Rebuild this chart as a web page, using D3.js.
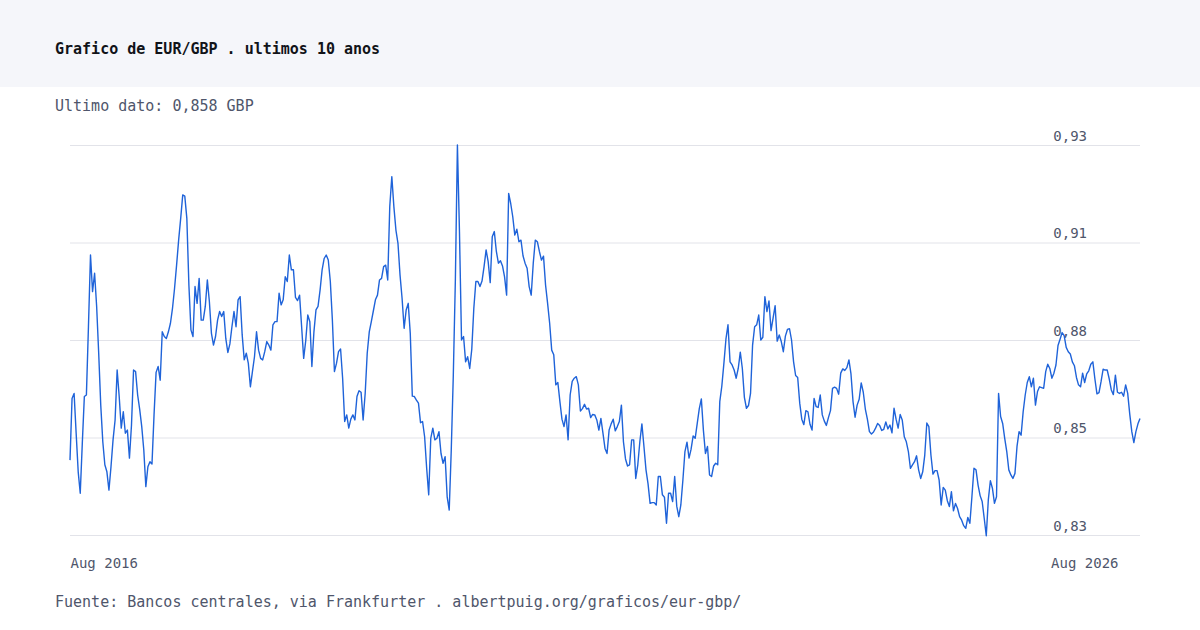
<!DOCTYPE html>
<html>
<head>
<meta charset="utf-8">
<script src="https://cdn.jsdelivr.net/npm/d3@7"></script>
<style>
  body { margin: 0; background: #fff; }
  svg { display: block; font-family: "DejaVu Sans Mono", monospace; }
</style>
</head>
<body>
<div id="chart"></div>
<script>
const title = "Grafico de EUR/GBP . ultimos 10 anos";
const source = "Fuente: Bancos centrales, via Frankfurter . albertpuig.org/graficos/eur-gbp/";
const latest = 0.858;

// weekly readings, starting here
const startDate = "2016-08-05";
const stepDays = 7;

const rates = [
  // 2016-2018
  0.8492, 0.8650, 0.8663, 0.8561, 0.8462, 0.8407, 0.8535, 0.8655, 0.8659, 0.8834,
  0.9018, 0.8924, 0.8971, 0.8886, 0.8766, 0.8633, 0.8539, 0.8480, 0.8462, 0.8415,
  0.8475, 0.8544, 0.8595, 0.8723, 0.8655, 0.8574, 0.8616, 0.8561, 0.8569, 0.8497,
  0.8582, 0.8723, 0.8719, 0.8659, 0.8622, 0.8578, 0.8518, 0.8424, 0.8475, 0.8488,
  0.8482, 0.8608, 0.8717, 0.8732, 0.8697, 0.8821, 0.8809, 0.8804, 0.8821, 0.8843,
  0.8881, 0.8932, 0.8992, 0.9056, 0.9112, 0.9172, 0.9169, 0.9112, 0.8941, 0.8826,
  0.8809, 0.8937, 0.8894, 0.8958, 0.8851, 0.8851, 0.8886, 0.8954, 0.8898, 0.8817,
  0.8787, 0.8809, 0.8851, 0.8873, 0.8860, 0.8873, 0.8804, 0.8768, 0.8790, 0.8834,
  0.8873, 0.8834, 0.8903, 0.8911, 0.8813, 0.8749, 0.8766, 0.8740,
  // 2018-2019
  0.8680, 0.8719, 0.8757, 0.8821, 0.8774, 0.8753, 0.8749, 0.8770, 0.8796, 0.8787,
  0.8774, 0.8839, 0.8847, 0.8847, 0.8920, 0.8890, 0.8903, 0.8962, 0.8950, 0.9018,
  0.8980, 0.8980, 0.8909, 0.8901, 0.8915, 0.8834, 0.8753, 0.8798, 0.8864, 0.8847,
  0.8732, 0.8821, 0.8877, 0.8886, 0.8928, 0.8980, 0.9009, 0.9018, 0.9005, 0.8950,
  0.8851, 0.8719, 0.8740, 0.8770, 0.8777, 0.8702, 0.8591, 0.8608, 0.8574, 0.8597,
  0.8608, 0.8595, 0.8655, 0.8670, 0.8666, 0.8595, 0.8663, 0.8766, 0.8821, 0.8847,
  0.8875, 0.8903, 0.8915, 0.8954, 0.8958, 0.8988, 0.8992, 0.8954, 0.9142, 0.9219,
  0.9142, 0.9082, 0.9048, 0.8967, 0.8907, 0.8830, 0.8877, 0.8894, 0.8817, 0.8656,
  0.8655, 0.8646, 0.8638, 0.8588, 0.8591, 0.8552, 0.8471, 0.8403,
  // 2020-2021
  0.8548, 0.8574, 0.8544, 0.8548, 0.8565, 0.8509, 0.8484, 0.8501, 0.8398, 0.8364,
  0.8518, 0.8710, 0.8954, 0.9300, 0.9078, 0.8800, 0.8809, 0.8744, 0.8757, 0.8727,
  0.8776, 0.8881, 0.8950, 0.8950, 0.8937, 0.8951, 0.8988, 0.9031, 0.9001, 0.8947,
  0.9065, 0.9078, 0.9027, 0.8997, 0.9003, 0.8990, 0.8962, 0.8915, 0.9176, 0.9150,
  0.9116, 0.9069, 0.9084, 0.9052, 0.9056, 0.9016, 0.8997, 0.8984, 0.8937, 0.8915,
  0.8997, 0.9056, 0.9052, 0.9027, 0.9005, 0.9015, 0.8941, 0.8894, 0.8843, 0.8774,
  0.8762, 0.8685, 0.8691, 0.8642, 0.8597, 0.8578, 0.8608, 0.8544, 0.8659, 0.8694,
  0.8702, 0.8706, 0.8685, 0.8618, 0.8624, 0.8635, 0.8623, 0.8625, 0.8601, 0.8609,
  0.8608, 0.8595, 0.8569, 0.8599, 0.8561, 0.8522, 0.8509, 0.8569,
  // 2022-2023
  0.8585, 0.8597, 0.8567, 0.8578, 0.8591, 0.8633, 0.8539, 0.8495, 0.8477, 0.8480,
  0.8544, 0.8544, 0.8445, 0.8480, 0.8539, 0.8585, 0.8527, 0.8467, 0.8431, 0.8381,
  0.8383, 0.8383, 0.8377, 0.8450, 0.8450, 0.8403, 0.8397, 0.8330, 0.8407, 0.8407,
  0.8386, 0.8450, 0.8374, 0.8347, 0.8377, 0.8441, 0.8514, 0.8538, 0.8497, 0.8520,
  0.8554, 0.8548, 0.8586, 0.8624, 0.8649, 0.8569, 0.8509, 0.8527, 0.8454, 0.8450,
  0.8477, 0.8484, 0.8480, 0.8642, 0.8682, 0.8740, 0.8802, 0.8839, 0.8744, 0.8736,
  0.8723, 0.8702, 0.8727, 0.8769, 0.8727, 0.8653, 0.8625, 0.8632, 0.8663, 0.8787,
  0.8834, 0.8839, 0.8864, 0.8800, 0.8807, 0.8911, 0.8873, 0.8900, 0.8824, 0.8856,
  0.8888, 0.8797, 0.8813, 0.8796, 0.8770, 0.8810, 0.8827, 0.8829,
  // 2023-2025
  0.8800, 0.8744, 0.8709, 0.8704, 0.8638, 0.8597, 0.8583, 0.8619, 0.8616, 0.8584,
  0.8569, 0.8650, 0.8629, 0.8627, 0.8659, 0.8608, 0.8592, 0.8581, 0.8601, 0.8619,
  0.8676, 0.8679, 0.8676, 0.8661, 0.8715, 0.8726, 0.8722, 0.8729, 0.8749, 0.8713,
  0.8642, 0.8602, 0.8633, 0.8648, 0.8690, 0.8666, 0.8623, 0.8597, 0.8565, 0.8559,
  0.8564, 0.8574, 0.8586, 0.8581, 0.8568, 0.8571, 0.8590, 0.8572, 0.8582, 0.8562,
  0.8625, 0.8597, 0.8574, 0.8609, 0.8595, 0.8552, 0.8539, 0.8514, 0.8471, 0.8480,
  0.8488, 0.8503, 0.8467, 0.8445, 0.8462, 0.8505, 0.8587, 0.8578, 0.8505, 0.8456,
  0.8465, 0.8465, 0.8441, 0.8377, 0.8422, 0.8415, 0.8388, 0.8373, 0.8411, 0.8362,
  0.8381, 0.8368, 0.8347, 0.8338, 0.8324, 0.8317, 0.8345, 0.8330,
  // 2025-2026
  0.8398, 0.8471, 0.8467, 0.8428, 0.8401, 0.8386, 0.8343, 0.8298, 0.8390, 0.8439,
  0.8420, 0.8381, 0.8398, 0.8663, 0.8604, 0.8586, 0.8548, 0.8514, 0.8467, 0.8454,
  0.8445, 0.8458, 0.8527, 0.8565, 0.8556, 0.8616, 0.8659, 0.8691, 0.8706, 0.8680,
  0.8702, 0.8633, 0.8668, 0.8680, 0.8678, 0.8676, 0.8719, 0.8738, 0.8727, 0.8702,
  0.8715, 0.8736, 0.8786, 0.8802, 0.8819, 0.8811, 0.8781, 0.8770, 0.8764, 0.8744,
  0.8734, 0.8704, 0.8685, 0.8680, 0.8715, 0.8691, 0.8713, 0.8721, 0.8738, 0.8744,
  0.8700, 0.8662, 0.8665, 0.8693, 0.8725, 0.8723, 0.8723, 0.8700, 0.8672, 0.8660,
  0.8710, 0.8666, 0.8663, 0.8666, 0.8656, 0.8685, 0.8663, 0.8610, 0.8565, 0.8537,
  0.8565, 0.8585, 0.8599
];

const yDomain = [0.83, 0.93];
const yTicks = [0.83, 0.855, 0.88, 0.905, 0.93];
const yTickLabels = ["0,83", "0,85", "0,88", "0,91", "0,93"];

const width = 1200, height = 630;
const plotLeft = 70, plotRight = 1140, plotTop = 145, plotBottom = 535;

const start = d3.timeParse("%Y-%m-%d")(startDate);
const data = rates.map((r, i) => ({ date: d3.timeDay.offset(start, i * stepDays), rate: r }));

const x = d3.scaleTime()
    .domain(d3.extent(data, d => d.date))
    .range([plotLeft, plotRight]);

const y = d3.scaleLinear()
    .domain(yDomain)
    .range([plotBottom, plotTop]);

const svg = d3.select("#chart")
    .append("svg")
    .attr("width", width)
    .attr("height", height);

// header band
svg.append("rect")
    .attr("width", width)
    .attr("height", 87)
    .attr("fill", "#f5f6fa");

svg.append("text")
    .attr("x", 55)
    .attr("y", 54)
    .attr("fill", "#111318")
    .style("font-size", "15px")
    .style("font-weight", "bold")
    .text(title);

svg.append("text")
    .attr("x", 55)
    .attr("y", 111)
    .attr("fill", "#4f566b")
    .style("font-size", "15px")
    .text("Ultimo dato: " + d3.format(".3f")(latest).replace(".", ",") + " GBP");

// gridlines + value labels
svg.append("g")
    .attr("transform", `translate(${plotLeft},0)`)
    .call(d3.axisRight(y)
        .tickValues(yTicks)
        .tickSize(plotRight - plotLeft)
        .tickFormat((d, i) => yTickLabels[i]))
    .call(g => g.select(".domain").remove())
    .call(g => g.selectAll(".tick line").attr("stroke", "#e2e3e9"))
    .call(g => g.selectAll(".tick text")
        .attr("x", 1017)
        .attr("dy", -5)
        .attr("text-anchor", "end")
        .attr("fill", "#4f566b")
        .style("font-family", "'DejaVu Sans Mono', monospace")
        .style("font-size", "14px"));

// first and last date
svg.append("g")
    .attr("transform", `translate(0,${plotBottom})`)
    .call(d3.axisBottom(x)
        .tickValues(x.domain())
        .tickSize(0)
        .tickFormat(d3.timeFormat("%b %Y")))
    .call(g => g.select(".domain").remove())
    .call(g => g.selectAll(".tick text")
        .attr("y", 33)
        .attr("dy", 0)
        .attr("fill", "#4f566b")
        .style("font-family", "'DejaVu Sans Mono', monospace")
        .style("font-size", "14px")
        .attr("text-anchor", (d, i) => i === 0 ? "start" : "end")
        .attr("dx", (d, i) => i === 0 ? 0 : -22));

const line = d3.line()
    .x(d => x(d.date))
    .y(d => y(d.rate));

svg.append("path")
    .datum(data)
    .attr("fill", "none")
    .attr("stroke", "#1f63d9")
    .attr("stroke-width", 1.4)
    .attr("stroke-linejoin", "round")
    .attr("d", line);

svg.append("text")
    .attr("x", 55)
    .attr("y", 607)
    .attr("fill", "#4f566b")
    .style("font-size", "15px")
    .text(source);
</script>
</body>
</html>
